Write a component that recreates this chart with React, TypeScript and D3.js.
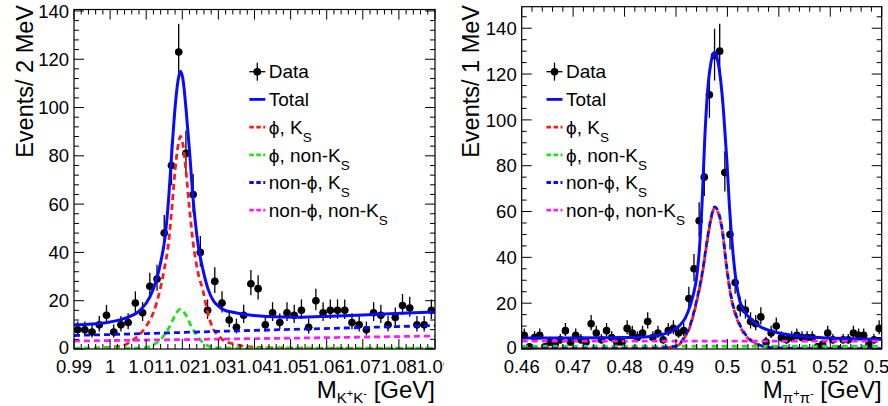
import React from "react";
import * as d3 from "d3";

type Pt = [number, number];

// ---------------- Left panel: M(K+K-) ----------------
const leftBinStart = 0.99;
const leftBinWidth = 0.002;
const leftCounts = [
  8, 8, 7, 10, 14, 7, 10, 11, 19, 15, 26, 29, 48, 76, 123, 81, 64, 40, 16, 28, 19, 12, 9, 14, 27,
  25, 10, 15, 11, 15, 14, 16, 9, 20, 15, 16, 16, 16, 11, 10, 8, 15, 14, 10, 13, 18, 17, 10, 10, 16,
];
const leftTotal: Pt[] = [
  [0.99, 10.0], [0.995, 10.4], [1.0, 11.2], [1.0046, 13.0], [1.0083, 16.0], [1.011, 21.5],
  [1.0129, 29], [1.0143, 38], [1.0152, 46], [1.0162, 62], [1.0172, 84], [1.018, 100],
  [1.0188, 111], [1.0195, 115], [1.0202, 111.5], [1.021, 100], [1.022, 82], [1.023, 62],
  [1.0243, 44], [1.0257, 33], [1.0271, 25], [1.0286, 20], [1.03, 17.8], [1.0315, 16.2],
  [1.034, 15.2], [1.0434, 13.5], [1.0526, 13.2], [1.061, 13.6], [1.07, 14.1], [1.079, 14.7],
  [1.09, 15.3],
];
const leftPhiKs: Pt[] = [
  [0.99, 0.2], [0.995, 0.35], [1.0, 0.7], [1.002, 1.0], [1.004, 1.6], [1.0063, 3.7],
  [1.0085, 6.5], [1.01, 9.5], [1.0119, 14.7], [1.0138, 24.3], [1.015, 33], [1.0162, 44],
  [1.0172, 60], [1.018, 74], [1.0188, 84], [1.0195, 88], [1.0202, 84.5], [1.021, 74],
  [1.022, 58], [1.023, 44], [1.0243, 32], [1.0257, 24.3], [1.0271, 14.7], [1.0285, 8.5],
  [1.03, 5.5], [1.0313, 3.7], [1.034, 2.2], [1.038, 1.0], [1.045, 0.5], [1.06, 0.25], [1.09, 0.1],
];
const leftPhiNonKs: Pt[] = [
  [0.99, 0.3], [1.005, 0.35], [1.009, 0.5], [1.0111, 1.0], [1.0125, 2.2], [1.0139, 3.7],
  [1.015, 5.8], [1.016, 8.0], [1.0172, 11.5], [1.0183, 14.8], [1.0195, 16.5], [1.0207, 14.8],
  [1.0218, 11.5], [1.023, 8.0], [1.024, 5.8], [1.0249, 3.9], [1.0263, 2.0], [1.0277, 1.0],
  [1.03, 0.5], [1.035, 0.35], [1.09, 0.3],
];
const leftNonPhiKs: Pt[] = [
  [0.99, 5.6], [1.01, 6.4], [1.03, 7.3], [1.05, 8.1], [1.07, 8.9], [1.09, 9.7],
];
const leftNonPhiNonKs: Pt[] = [
  [0.99, 3.3], [1.03, 4.1], [1.06, 4.7], [1.09, 5.4],
];
const leftXTicks = [0.99, 1.0, 1.01, 1.02, 1.03, 1.04, 1.05, 1.06, 1.07, 1.08, 1.09];
const leftYTicks = [0, 20, 40, 60, 80, 100, 120, 140];

// ---------------- Right panel: M(pi+pi-) ----------------
const rightBinStart = 0.46;
const rightBinWidth = 0.001;
const rightCounts = [
  6, 1, 5, 6, 1, 3, 2, 4, 8, 3, 6, 4, 3, 11, 7, 4, 8, 5, 3, 3, 9, 7, 5, 7, 12, 5, 7, 4, 8, 9,
  7, 8, 22, 35, 56, 75, 111, 128, 130, 77, 50, 29, 18, 17, 12, 11, 14, 3, 7, 10,
  5, 4, 5, 6, 5, 5, 5, 1, 2, 7, 4, 0, 4, 4, 7, 6, 6, 2, 4, 9,
];
const rightTotal: Pt[] = [
  [0.46, 4.8], [0.47, 4.8], [0.48, 5.0], [0.485, 5.5], [0.4882, 6.9], [0.4895, 8.3],
  [0.4908, 10.5], [0.4918, 13.5], [0.4927, 18.5], [0.4934, 24], [0.494, 31], [0.4946, 45],
  [0.4951, 65], [0.4956, 92], [0.4962, 114], [0.4968, 125], [0.4975, 129.5], [0.4981, 126],
  [0.4987, 117], [0.4993, 102], [0.4999, 82], [0.5004, 62], [0.501, 44], [0.5016, 31],
  [0.5024, 21], [0.5034, 16], [0.5044, 13.4], [0.5064, 9.7], [0.5083, 8], [0.5102, 6.9],
  [0.5135, 5.8], [0.5167, 5.1], [0.5232, 4.5], [0.53, 4.3],
];
const rightNonPhiKs: Pt[] = [
  [0.46, 0.2], [0.485, 0.3], [0.4895, 1.0], [0.4908, 2.5], [0.4916, 5], [0.4927, 10],
  [0.4938, 19], [0.4951, 33], [0.4961, 48], [0.4968, 57], [0.4975, 62], [0.4982, 60],
  [0.499, 52], [0.4999, 35], [0.5008, 22], [0.5018, 14], [0.503, 8], [0.5045, 4],
  [0.506, 2], [0.5085, 0.6], [0.515, 0.2], [0.53, 0.1],
];
const rightPhiKs: Pt[] = [
  [0.46, 0.1], [0.485, 0.2], [0.4895, 0.9], [0.4908, 2.3], [0.4916, 4.8], [0.4927, 9.6],
  [0.4938, 18.5], [0.4951, 32.5], [0.4961, 47.5], [0.4968, 56.5], [0.4975, 61.5], [0.4982, 59.5],
  [0.499, 51.5], [0.4999, 34.5], [0.5008, 21.5], [0.5018, 13.5], [0.503, 7.6], [0.5045, 3.7],
  [0.506, 1.8], [0.5085, 0.5], [0.515, 0.15], [0.53, 0.05],
];
const rightPhiNonKs: Pt[] = [
  [0.46, 1.2], [0.53, 1.2],
];
const rightNonPhiNonKs: Pt[] = [
  [0.46, 3.4], [0.53, 3.4],
];
const rightXTicks = [0.46, 0.47, 0.48, 0.49, 0.5, 0.51, 0.52, 0.53];
const rightYTicks = [0, 20, 40, 60, 80, 100, 120, 140];

const legendLabels = ["Data", "Total", "ϕ, K|S", "ϕ, non-K|S", "non-ϕ, K|S", "non-ϕ, non-K|S"];

// ---------------- styling ----------------
const FONT = "'Liberation Sans', Arial, Helvetica, sans-serif";
const BLUE = "#0a0aff";
const RED = "#ff1a1a";
const GREEN = "#1ae61a";
const MAGENTA = "#ff1aff";

type CurveDef = { pts: Pt[]; color: string; dash?: string; offset?: number };

type PanelProps = {
  id: string;
  frame: { x0: number; x1: number; y0: number; y1: number };
  clip: { x: number; w: number };
  xDomain: [number, number];
  yDomain: [number, number];
  counts: number[];
  binStart: number;
  binWidth: number;
  curves: CurveDef[];
  legendColors: (string | null)[];
  xTicks: number[];
  xMinorStep: number;
  yTicks: number[];
  yMinorStep: number;
  yTitle: string;
  yTitleX: number;
  xSub: [string, string];
  legendX0: number;
};

function fmt(v: number) {
  return String(parseFloat(v.toFixed(3)));
}

function Panel(p: PanelProps) {
  const { frame } = p;
  const x = d3.scaleLinear().domain(p.xDomain).range([frame.x0, frame.x1]);
  const y = d3.scaleLinear().domain(p.yDomain).range([frame.y1, frame.y0]);
  const line = d3
    .line<Pt>()
    .x((d) => x(d[0]))
    .y((d) => y(d[1]))
    .curve(d3.curveMonotoneX);

  const nxm = Math.round((p.xDomain[1] - p.xDomain[0]) / p.xMinorStep);
  const xMinor = d3.range(nxm + 1).map((i) => p.xDomain[0] + i * p.xMinorStep);
  const nym = Math.floor(p.yDomain[1] / p.yMinorStep + 1e-6);
  const yMinor = d3.range(nym + 1).map((i) => i * p.yMinorStep);

  const MAJ = 10;
  const MIN = 5;

  const rowCy = [71.7, 99.4, 127.1, 154.8, 182.5, 210.2];
  const lx0 = p.legendX0;
  const lx1 = lx0 + 16;
  const tx = lx1 + 3.5;

  return (
    <g clipPath={`url(#${p.id}-half)`}>
      <defs>
        <clipPath id={`${p.id}-half`}>
          <rect x={p.clip.x} y={0} width={p.clip.w} height={406} />
        </clipPath>
        <clipPath id={`${p.id}-frame`}>
          <rect x={frame.x0} y={frame.y0} width={frame.x1 - frame.x0} height={frame.y1 - frame.y0} />
        </clipPath>
      </defs>

      {/* data points */}
      <g clipPath={`url(#${p.id}-frame)`}>
        {p.counts.map((n, i) => {
          const c = p.binStart + (i + 0.5) * p.binWidth;
          const s = Math.sqrt(n + 0.25);
          const up = n + s + 0.5;
          const lo = Math.max(0, n - (s - 0.5));
          const cx = x(c);
          return (
            <g key={i}>
              <line x1={cx} x2={cx} y1={y(lo)} y2={y(up)} stroke="#000" strokeWidth={1.3} />
              <line
                x1={x(p.binStart + i * p.binWidth)}
                x2={x(p.binStart + (i + 1) * p.binWidth)}
                y1={y(n)}
                y2={y(n)}
                stroke="#000"
                strokeWidth={1.3}
              />
              <circle cx={cx} cy={y(n)} r={3.8} fill="#000" />
            </g>
          );
        })}
        {p.curves.map((cv, i) => (
          <path
            key={i}
            d={line(cv.pts) || ""}
            fill="none"
            stroke={cv.color}
            strokeWidth={cv.dash ? 2.8 : 3}
            strokeDasharray={cv.dash}
            strokeDashoffset={cv.offset || 0}
          />
        ))}
      </g>

      {/* frame */}
      <rect
        x={frame.x0}
        y={frame.y0}
        width={frame.x1 - frame.x0}
        height={frame.y1 - frame.y0}
        fill="none"
        stroke="#000"
        strokeWidth={1.2}
      />
      {xMinor.map((v, i) => {
        const isMaj = p.xTicks.some((t) => Math.abs(t - v) < 1e-7);
        const L = isMaj ? MAJ : MIN;
        return (
          <g key={"xt" + i}>
            <line x1={x(v)} x2={x(v)} y1={frame.y1} y2={frame.y1 - L} stroke="#000" strokeWidth={1} />
            <line x1={x(v)} x2={x(v)} y1={frame.y0} y2={frame.y0 + L} stroke="#000" strokeWidth={1} />
          </g>
        );
      })}
      {yMinor.map((v, i) => {
        const isMaj = p.yTicks.includes(v);
        const L = isMaj ? MAJ : MIN;
        return (
          <g key={"yt" + i}>
            <line x1={frame.x0} x2={frame.x0 + L} y1={y(v)} y2={y(v)} stroke="#000" strokeWidth={1} />
            <line x1={frame.x1} x2={frame.x1 - L} y1={y(v)} y2={y(v)} stroke="#000" strokeWidth={1} />
          </g>
        );
      })}
      {p.xTicks.map((v, i) => (
        <text key={"xl" + i} x={x(v)} y={372.5} textAnchor="middle" fontSize={18.5} fontFamily={FONT} fill="#000">
          {fmt(v)}
        </text>
      ))}
      {p.yTicks.map((v, i) => (
        <text
          key={"yl" + i}
          x={frame.x0 - 5}
          y={y(v) - (v === 0 ? 1.5 : 0)}
          dy="0.36em"
          textAnchor="end"
          fontSize={18.5}
          fontFamily={FONT}
          fill="#000"
        >
          {v}
        </text>
      ))}
      <text
        transform={`translate(${p.yTitleX},5) rotate(-90)`}
        textAnchor="end"
        fontSize={23.5}
        fontFamily={FONT}
        fill="#000"
      >
        {p.yTitle}
      </text>
      <text x={frame.x1} y={398} textAnchor="end" fontSize={24} fontFamily={FONT} fill="#000">
        M
        <tspan fontSize={15} dy={5}>{p.xSub[0]}</tspan>
        <tspan fontSize={11} dy={-6}>+</tspan>
        <tspan fontSize={15} dy={6}>{p.xSub[1]}</tspan>
        <tspan fontSize={11} dy={-6}>-</tspan>
        <tspan fontSize={24} dy={1}> [GeV]</tspan>
      </text>

      {legendLabels.map((lab, i) => {
        const cy = rowCy[i];
        const [main, sub] = lab.split("|");
        const col = p.legendColors[i];
        return (
          <g key={"lg" + i}>
            {i === 0 ? (
              <g>
                <line x1={lx0} x2={lx1} y1={cy} y2={cy} stroke="#000" strokeWidth={1.3} />
                <line x1={(lx0 + lx1) / 2} x2={(lx0 + lx1) / 2} y1={cy - 9} y2={cy + 9} stroke="#000" strokeWidth={1.3} />
                <circle cx={(lx0 + lx1) / 2} cy={cy} r={3.8} fill="#000" />
              </g>
            ) : (
              <line
                x1={lx0}
                x2={lx1}
                y1={cy}
                y2={cy}
                stroke={col || "#000"}
                strokeWidth={2.8}
                strokeDasharray={i === 1 ? undefined : "4.5 2.5"}
              />
            )}
            <text x={tx} y={cy + 6.7} fontSize={19} fontFamily={FONT} fill="#000">
              {main}
              {sub ? (
                <tspan fontSize={13.5} dy={8}>
                  {sub}
                </tspan>
              ) : null}
            </text>
          </g>
        );
      })}
    </g>
  );
}

export default function App() {
  const dash = "6 4";
  return (
    <div style={{ position: "absolute", left: 0, top: 0, width: 888, height: 406, background: "#fff" }}>
      <svg width={888} height={406} viewBox="0 0 888 406" style={{ display: "block" }}>
        <rect x={0} y={0} width={888} height={406} fill="#fff" />
        <Panel
          id="left"
          frame={{ x0: 74, x1: 435, y0: 9.5, y1: 349 }}
          clip={{ x: 0, w: 444 }}
          xDomain={[0.99, 1.09]}
          yDomain={[0, 140.6]}
          counts={leftCounts}
          binStart={leftBinStart}
          binWidth={leftBinWidth}
          curves={[
            { pts: leftTotal, color: BLUE },
            { pts: leftPhiKs, color: RED, dash },
            { pts: leftPhiNonKs, color: GREEN, dash },
            { pts: leftNonPhiKs, color: BLUE, dash },
            { pts: leftNonPhiNonKs, color: MAGENTA, dash },
          ]}
          legendColors={[null, BLUE, RED, GREEN, BLUE, MAGENTA]}
          xTicks={leftXTicks}
          xMinorStep={0.002}
          yTicks={leftYTicks}
          yMinorStep={4}
          yTitle="Events/ 2 MeV"
          yTitleX={33}
          xSub={["K", "K"]}
          legendX0={249.3}
        />
        <Panel
          id="right"
          frame={{ x0: 521.7, x1: 881.7, y0: 6.7, y1: 349 }}
          clip={{ x: 444, w: 444 }}
          xDomain={[0.46, 0.53]}
          yDomain={[0, 149.4]}
          counts={rightCounts}
          binStart={rightBinStart}
          binWidth={rightBinWidth}
          curves={[
            { pts: rightTotal, color: BLUE },
            { pts: rightPhiKs, color: RED, dash, offset: 5 },
            { pts: rightPhiNonKs, color: GREEN, dash },
            { pts: rightNonPhiKs, color: BLUE, dash },
            { pts: rightNonPhiNonKs, color: MAGENTA, dash },
          ]}
          legendColors={[null, BLUE, RED, GREEN, BLUE, MAGENTA]}
          xTicks={rightXTicks}
          xMinorStep={0.002}
          yTicks={rightYTicks}
          yMinorStep={5}
          yTitle="Events/ 1 MeV"
          yTitleX={479}
          xSub={["π", "π"]}
          legendX0={546.5}
        />
      </svg>
    </div>
  );
}
